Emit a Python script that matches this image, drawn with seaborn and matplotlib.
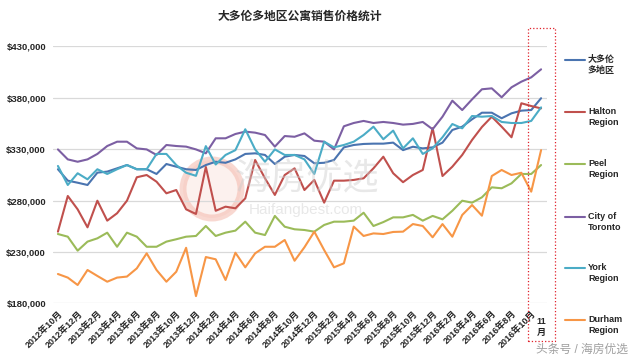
import numpy as np
import pandas as pd
import seaborn as sns
import matplotlib.pyplot as plt
from matplotlib.lines import Line2D
from matplotlib.patches import Rectangle, Ellipse
from matplotlib.ticker import FuncFormatter

# months 2012年10月 .. 2016年11月
months = [f'{y}年{m}月' for y in range(2012, 2017) for m in range(1, 13)][9:59]

regions = ['大多伦多地区', 'Halton Region', 'Peel Region', 'City of Toronto', 'York Region', 'Durham Region']
legend_labels = ['大多伦\n多地区', 'Halton\nRegion', 'Peel\nRegion', 'City of\nToronto', 'York\nRegion', 'Durham\nRegion']
colors = ['#4a74b0', '#c0504d', '#9bbb59', '#7c5fa3', '#4bacc6', '#f79646']
y_ticks = [180000, 230000, 280000, 330000, 380000, 430000]

# prices in thousands of dollars
gta = [310.4, 299.3, 297.3, 295.1, 307.1, 308.1, 311.3, 314.5, 310.4, 310.4,
       305.8, 315.5, 312.9, 310.4, 309.7, 314.5, 317.7, 316.7, 320.0, 325.3,
       325.9, 324.3, 315.5, 322.6, 324.3, 323.3, 316.2, 316.7, 319.4, 331.7,
       334.0, 335.0, 335.3, 335.3, 336.3, 329.0, 332.3, 330.7, 331.7, 336.3,
       348.6, 351.8, 359.0, 365.4, 365.4, 360.0, 364.8, 367.4, 368.0, 379.5]
halton = [249.7, 284.4, 271.4, 253.9, 279.8, 260.4, 267.6, 279.8, 302.6, 304.8,
          298.3, 287.0, 290.2, 271.4, 266.9, 312.6, 270.0, 274.0, 272.4, 282.1,
          319.4, 301.6, 285.4, 304.8, 311.3, 290.2, 300.0, 277.9, 299.3, 299.3,
          300.0, 301.6, 311.3, 322.6, 306.5, 297.8, 304.8, 309.7, 350.4, 303.8,
          312.9, 324.3, 338.9, 351.5, 361.5, 351.8, 341.5, 374.6, 371.9, 369.6]
peel = [247.4, 244.8, 231.2, 240.0, 243.2, 248.7, 235.0, 248.7, 244.8, 235.0,
        235.0, 240.0, 242.3, 244.8, 245.5, 255.2, 245.5, 248.7, 250.7, 259.4,
        248.7, 246.4, 265.0, 254.5, 252.0, 251.3, 249.7, 256.2, 259.4, 259.4,
        260.4, 268.1, 255.2, 259.0, 263.6, 263.6, 266.0, 260.4, 265.0, 261.7,
        270.0, 279.8, 277.9, 283.1, 292.8, 291.9, 296.7, 305.8, 305.8, 314.5]
toronto = [329.7, 320.0, 317.7, 320.0, 325.3, 333.0, 337.2, 337.2, 330.7, 329.7,
           324.3, 334.0, 333.0, 332.4, 329.7, 325.9, 340.5, 340.5, 344.7, 347.0,
           346.0, 343.7, 332.4, 342.7, 342.0, 345.3, 338.2, 337.2, 329.7, 352.2,
           355.4, 357.4, 355.4, 356.4, 355.4, 353.8, 354.5, 356.4, 349.3, 361.5,
           377.1, 368.0, 378.4, 388.2, 389.1, 380.4, 390.1, 395.6, 399.8, 407.6]
york = [313.6, 295.1, 306.5, 300.6, 310.4, 305.8, 310.4, 314.5, 310.4, 310.4,
        325.3, 325.3, 314.5, 307.0, 304.0, 332.9, 315.0, 324.3, 329.0, 349.3,
        329.7, 317.7, 329.7, 324.3, 324.3, 320.0, 305.8, 337.2, 331.7, 334.0,
        337.2, 343.7, 351.8, 339.6, 348.0, 330.7, 340.5, 325.3, 330.7, 341.5,
        354.4, 350.2, 362.2, 361.5, 362.2, 356.4, 355.4, 355.4, 357.4, 370.6]
durham = [208.5, 205.0, 197.8, 212.4, 206.6, 201.0, 205.0, 206.0, 214.0, 228.6,
          212.4, 201.0, 210.7, 234.0, 187.0, 225.0, 222.8, 202.7, 229.2, 215.0,
          228.6, 235.0, 235.0, 241.6, 221.4, 234.5, 249.7, 231.8, 215.0, 218.9,
          254.6, 245.5, 248.0, 247.4, 249.4, 249.7, 257.1, 255.2, 244.2, 257.1,
          244.8, 265.9, 275.6, 265.2, 303.8, 309.7, 304.8, 307.0, 288.6, 329.0]

series = [gta, halton, peel, toronto, york, durham]
frames = []
for name, vals in zip(regions, series):
    frames.append(pd.DataFrame({'idx': range(len(months)), 'price': np.array(vals) * 1000, 'region': name}))
df = pd.concat(frames, ignore_index=True)

sns.set_style('white')
plt.rcParams['font.family'] = ['Liberation Sans', 'Noto Sans CJK SC', 'DejaVu Sans']

fig = plt.figure(figsize=(6.4, 3.63), dpi=100)
ax = fig.add_axes([53 / 640, 1 - 303.3 / 363, 494 / 640, 257 / 363])

# watermark logo behind the lines
fig.add_artist(Ellipse((212 / 640, 1 - 189 / 363), 58 / 640, 58 / 363, transform=fig.transFigure,
                       facecolor='#fbe4de', edgecolor='#f3b3a5', linewidth=5, alpha=0.5, zorder=0))

sns.lineplot(data=df, x='idx', y='price', hue='region', hue_order=regions,
             palette=colors, linewidth=1.5, legend=False, ax=ax)
ax.patch.set_alpha(0)

ax.set_xlim(-0.5, 49.6)
ax.set_ylim(180000, 430000)
ax.set_yticks(y_ticks)
ax.yaxis.set_major_formatter(FuncFormatter(lambda v, p: f'${v:,.0f}'))
ax.yaxis.grid(True, color='#d9d9d9', linewidth=0.9)
ax.set_axisbelow(True)
for s in ax.spines.values():
    s.set_visible(False)
ax.set_xlabel('')
ax.set_ylabel('')

ticks = list(range(0, 49, 2))
ax.set_xticks(ticks)
ax.set_xticklabels([months[i] for i in ticks], rotation=45, ha='right',
                   rotation_mode='anchor', fontsize=6.5, weight='bold')
ax.tick_params(axis='x', length=0, pad=4)
ax.tick_params(axis='y', length=0, pad=5, labelsize=6.8)
for lab in ax.get_yticklabels():
    lab.set_fontweight('bold')

# last month label, horizontal
ax.text(49, -0.055, '11\n月', transform=ax.get_xaxis_transform(), ha='center', va='top',
        fontsize=6.5, weight='bold', linespacing=1.2)

fig.text(0.469, 0.953, '大多伦多地区公寓销售价格统计', ha='center', va='center',
         fontsize=8.5, weight='bold')

# red dotted highlight box
fig.add_artist(Rectangle((528 / 640, 1 - 341 / 363), 27 / 640, 313 / 363, transform=fig.transFigure,
                         fill=False, edgecolor='#e0202a', linestyle=':', linewidth=0.9))

# legend on the right
legend_y = [60, 112, 164, 217, 268, 320]
for lab, col, yp in zip(legend_labels, colors, legend_y):
    fig.add_artist(Line2D([565 / 640, 585 / 640], [1 - yp / 363] * 2, color=col,
                          linewidth=1.5, transform=fig.transFigure))
    fig.text(588 / 640, 1 - (yp - 5) / 363, lab, ha='left', va='top', fontsize=6.5,
             weight='bold', linespacing=1.35)

# text watermarks
fig.text(307 / 640, 1 - 180 / 363, '海房优选', ha='center', va='center', fontsize=26,
         color='#cccccc', alpha=0.45)
fig.text(306 / 640, 1 - 210 / 363, 'Haifangbest.com', ha='center', va='center', fontsize=11,
         color='#cccccc', alpha=0.45)
fig.text(582 / 640, 1 - 350 / 363, '头条号 / 海房优选', ha='center', va='center', fontsize=8.5,
         color='#a0a0a0')

fig.savefig('out.png', dpi=100)
